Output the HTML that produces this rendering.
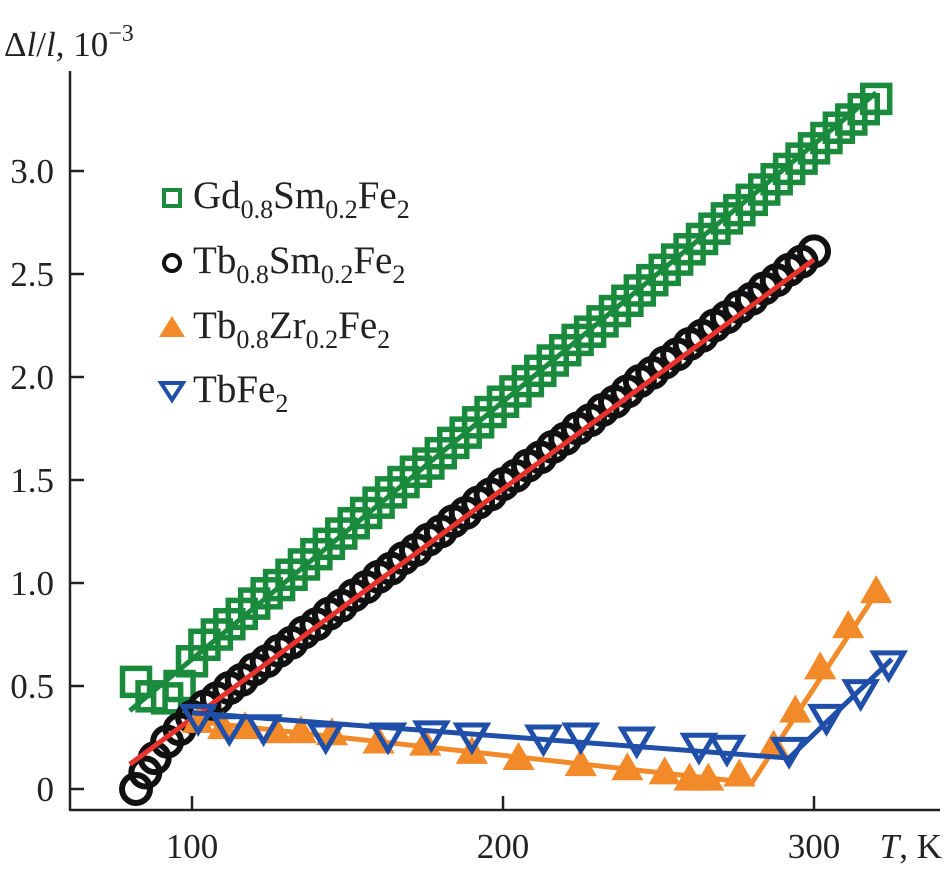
<!DOCTYPE html>
<html><head><meta charset="utf-8"><style>
body{margin:0;background:#fff;}
svg{display:block;}
svg text{font-family:"Liberation Serif","Times New Roman",serif;}
</style></head><body>
<svg width="946" height="870" viewBox="0 0 946 870" font-family="Liberation Serif, serif">
<g id="axes"></g>
<g id="marks"></g>
<g id="legend"></g>
</svg>
<script>
const xTicks=[100,200,300];
const yTicks=[0,0.5,1.0,1.5,2.0,2.5,3.0];
const yTickLabels=["0","0.5","1.0","1.5","2.0","2.5","3.0"];
const gdT=[82,87,92,96,100,104,108,112,116,120,124,128,132,136,140,144,148,152,156,160,164,168,172,176,180,184,188,192,196,200,204,208,212,216,220,224,228,232,236,240,244,248,252,256,260,264,268,272,276,280,284,288,292,296,300,304,308,312,316,320];
const gdV=[0.52,0.45,0.44,0.5,0.62,0.70,0.75,0.80,0.85,0.90,0.95,0.99,1.04,1.09,1.14,1.19,1.24,1.29,1.34,1.39,1.44,1.49,1.54,1.58,1.63,1.68,1.73,1.78,1.83,1.88,1.93,1.98,2.03,2.08,2.13,2.18,2.22,2.27,2.32,2.37,2.42,2.47,2.52,2.57,2.62,2.67,2.72,2.77,2.81,2.86,2.91,2.96,3.01,3.06,3.11,3.16,3.21,3.25,3.30,3.35];
const gdFitT=[80,320];const gdFitV=[0.38,3.38];
const tbsT=[82,85,88,92,96,100,104,108,112,116,120,124,128,132,136,140,144,148,152,156,160,164,168,172,176,180,184,188,192,196,200,204,208,212,216,220,224,228,232,236,240,244,248,252,256,260,264,268,272,276,280,284,288,292,296,300];
const tbsV=[0.0,0.08,0.15,0.23,0.29,0.35,0.40,0.44,0.49,0.53,0.58,0.62,0.67,0.71,0.76,0.80,0.85,0.89,0.94,0.98,1.03,1.07,1.12,1.16,1.21,1.25,1.30,1.34,1.39,1.43,1.48,1.52,1.57,1.61,1.66,1.70,1.75,1.79,1.84,1.88,1.93,1.98,2.02,2.07,2.11,2.16,2.20,2.25,2.29,2.34,2.38,2.43,2.47,2.52,2.56,2.61];
const tbsFitT=[80,300];const tbsFitV=[0.12,2.57];
const zrT=[102,110,117,127,135,145,160,175,190,205,225,240,252,260,266,276,287,294,302,311,320];
const zrV=[0.33,0.3,0.3,0.28,0.28,0.27,0.23,0.22,0.18,0.15,0.12,0.1,0.08,0.05,0.05,0.07,0.21,0.38,0.59,0.79,0.96];
const zrFitT=[100,280,320];const zrFitV=[0.33,0.03,0.95];
const tbT=[102,112,123,143,163,177,190,213,225,243,263,272,292,304,315,324];
const tbV=[0.35,0.3,0.3,0.26,0.26,0.27,0.26,0.25,0.26,0.24,0.21,0.2,0.19,0.35,0.47,0.61];
const tbFitT=[100,292,325];const tbFitV=[0.37,0.15,0.63];

const NS="http://www.w3.org/2000/svg";
const FF='"Liberation Serif", "Times New Roman", serif';
const X=t=>192+(t-100)*3.11;
const Y=v=>789-v*206;
function mk(tag,attrs,parent){const e=document.createElementNS(NS,tag);for(const k in attrs)e.setAttribute(k,attrs[k]);if(tag==='text')e.style.fontFamily=FF;parent.appendChild(e);return e;}
const axes=document.getElementById('axes'),marks=document.getElementById('marks'),legend=document.getElementById('legend');

let a=mk('line',{x1:70,y1:71,x2:70,y2:810,stroke:'#222','stroke-width':2.5},axes);


a=mk('line',{x1:69,y1:810,x2:940,y2:810,stroke:'#222','stroke-width':2.5},axes);


yTicks.forEach((v,i)=>{
  const t=mk('line',{x1:70,y1:Y(v),x2:84,y2:Y(v),stroke:'#222','stroke-width':2.5},axes);
  
  
  const l=mk('text',{x:54,y:Y(v)+12,'text-anchor':'end','font-size':35,fill:'#222'},axes);
  l.textContent=yTickLabels[i];
  
  
});
xTicks.forEach(v=>{
  const t=mk('line',{x1:X(v),y1:796,x2:X(v),y2:810,stroke:'#222','stroke-width':2.5},axes);
  
  
  const l=mk('text',{x:X(v),y:858,'text-anchor':'middle','font-size':35,fill:'#222'},axes);
  l.textContent=String(v);
  
  
});
let xt=mk('text',{x:942,y:858,'text-anchor':'end','font-size':35,fill:'#222'},axes);
xt.innerHTML='<tspan font-style="italic">T</tspan>, K';


let yt=mk('text',{x:4,y:56,'font-size':35,fill:'#222'},axes);
yt.innerHTML='Δ<tspan font-style="italic">l</tspan>/<tspan font-style="italic">l</tspan>, 10<tspan dy="-15" font-size="24">−3</tspan>';



function fit(T,V,color,name){
  const p=mk('polyline',{points:T.map((t,i)=>X(t)+','+Y(V[i])).join(' '),fill:'none',stroke:color,'stroke-width':5},marks);
  
  
}
function marker(type,cx,cy,color,parent,s){
  let e;
  if(type==='sq') e=mk('rect',{x:cx-s,y:cy-s,width:2*s,height:2*s,fill:'none',stroke:color,'stroke-width':5.5},parent);
  else if(type==='ci') e=mk('circle',{cx:cx,cy:cy,r:s,fill:'none',stroke:color,'stroke-width':6},parent);
  else if(type==='up') e=mk('polygon',{points:`${cx-s*1.15},${cy+s*0.85} ${cx+s*1.15},${cy+s*0.85} ${cx},${cy-s*1.15}`,fill:color,stroke:'none'},parent);
  else e=mk('polygon',{points:`${cx-s},${cy-s*0.7} ${cx+s},${cy-s*0.7} ${cx},${cy+s}`,fill:'none',stroke:color,'stroke-width':5,'stroke-linejoin':'miter'},parent);
  return e;
}
const G='#1a8a3c',K='#111',O='#f28a2a',B='#1f4fa8',R='#e8322c';
gdT.forEach((t,i)=>{const e=marker('sq',X(t),Y(gdV[i]),G,marks,13.5);
  
  });
fit(gdFitT,gdFitV,G,'gd-sm-fit-line');
tbsT.forEach((t,i)=>{const e=marker('ci',X(t),Y(tbsV[i]),K,marks,14);
  
  });
fit(tbsFitT,tbsFitV,R,'tb-sm-fit-line');
zrT.forEach((t,i)=>{const e=marker('up',X(t),Y(zrV[i]),O,marks,14);
  
  });
fit(zrFitT,zrFitV,O,'tb-zr-fit-line');
tbT.forEach((t,i)=>{const e=marker('dn',X(t),Y(tbV[i]),B,marks,15);
  
  });
fit(tbFitT,tbFitV,B,'tbfe2-fit-line');

const legItems=[
 ['sq',G,'Gd<tspan dy="10" font-size="26">0.8</tspan><tspan dy="-10">Sm</tspan><tspan dy="10" font-size="26">0.2</tspan><tspan dy="-10">Fe</tspan><tspan dy="10" font-size="26">2</tspan>',208,'legend-gd-sm'],
 ['ci',K,'Tb<tspan dy="10" font-size="26">0.8</tspan><tspan dy="-10">Sm</tspan><tspan dy="10" font-size="26">0.2</tspan><tspan dy="-10">Fe</tspan><tspan dy="10" font-size="26">2</tspan>',273,'legend-tb-sm'],
 ['up',O,'Tb<tspan dy="10" font-size="26">0.8</tspan><tspan dy="-10">Zr</tspan><tspan dy="10" font-size="26">0.2</tspan><tspan dy="-10">Fe</tspan><tspan dy="10" font-size="26">2</tspan>',338,'legend-tb-zr'],
 ['dn',B,'TbFe<tspan dy="10" font-size="26">2</tspan>',402,'legend-tbfe2']
];
legItems.forEach(it=>{
  const g=mk('g',{},legend);
  
  
  if(it[0]==='sq') mk('rect',{x:164,y:it[3]-18,width:16,height:16,fill:'none',stroke:it[1],'stroke-width':4},g);
  else if(it[0]==='ci') mk('circle',{cx:172,cy:it[3]-10,r:8,fill:'none',stroke:it[1],'stroke-width':4},g);
  else if(it[0]==='up') mk('polygon',{points:`159,${it[3]-1} 185,${it[3]-1} 172,${it[3]-22}`,fill:it[1]},g);
  else mk('polygon',{points:`161,${it[3]-19} 183,${it[3]-19} 172,${it[3]-2}`,fill:'none',stroke:it[1],'stroke-width':4},g);
  const t=mk('text',{x:193,y:it[3],'font-size':39,fill:'#222'},g);
  t.innerHTML=it[2];
});
</script>
</body></html>
